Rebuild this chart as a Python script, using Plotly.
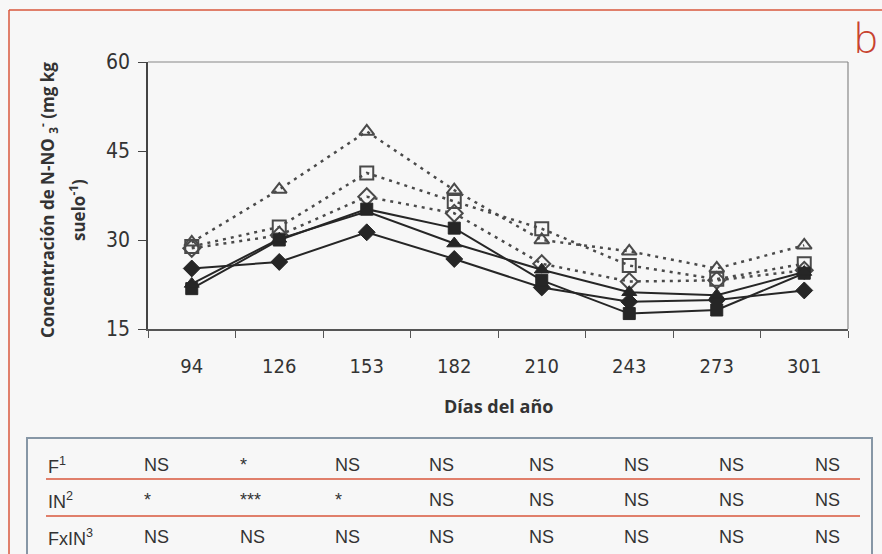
import plotly.graph_objects as go

# Day-of-year sampling dates (category axis)
days = ["94", "126", "153", "182", "210", "243", "273", "301"]

# Soil nitrate concentration (mg N-NO3- per kg soil) for each treatment
solid_diamond = [25.2, 26.3, 31.3, 26.8, 22.0, 19.6, 19.9, 21.5]
solid_square = [21.8, 30.0, 35.2, 32.0, 23.2, 17.6, 18.2, 24.4]
solid_triangle = [22.6, 30.2, 34.8, 29.4, 25.0, 21.2, 20.7, 24.6]
open_diamond = [28.6, 30.8, 37.3, 34.5, 26.0, 23.0, 23.2, 24.9]
open_square = [28.9, 32.2, 41.3, 36.5, 31.9, 25.7, 23.4, 26.0]
open_triangle = [29.6, 38.5, 48.3, 38.4, 30.0, 28.1, 25.2, 29.1]

y_ticks = [15, 30, 45, 60]

# Significance table below the chart
table_labels = ["F<sup>1</sup>", "IN<sup>2</sup>", "FxIN<sup>3</sup>"]
table_F = ["NS", "*", "NS", "NS", "NS", "NS", "NS", "NS"]
table_IN = ["*", "***", "*", "NS", "NS", "NS", "NS", "NS"]
table_FxIN = ["NS", "NS", "NS", "NS", "NS", "NS", "NS", "NS"]

W, H = 882, 554
L, R, T, B = 148, 848, 62, 329


def px(x):
    return (x - L) / (R - L)


def py(y):
    return (B - y) / (B - T)


BG = "#f7f7f7"
DARK = "#262626"
DOT = "#4a4a4a"
RED = "#d8573c"

fig = go.Figure()

solid_series = [
    ("Fertilizado, IN diamante", solid_diamond, "diamond"),
    ("Fertilizado, IN cuadrado", solid_square, "square"),
    ("Fertilizado, IN triángulo", solid_triangle, "triangle-up"),
]
open_series = [
    ("Sin fertilizar, IN diamante", open_diamond, "diamond-open"),
    ("Sin fertilizar, IN cuadrado", open_square, "square-open"),
    ("Sin fertilizar, IN triángulo", open_triangle, "triangle-up-open"),
]

for name, vals, sym in open_series:
    fig.add_trace(go.Scatter(
        x=days, y=vals, name=name, mode="lines+markers",
        line=dict(color=DOT, width=2.5, dash="3px,5px"),
        marker=dict(symbol=sym, size=13, color=DOT,
                    line=dict(color=DOT, width=2)),
    ))

for name, vals, sym in solid_series:
    fig.add_trace(go.Scatter(
        x=days, y=vals, name=name, mode="lines+markers",
        line=dict(color=DARK, width=2),
        marker=dict(symbol=sym, size=13 if sym != "square" else 12,
                    color=DARK, line=dict(color=DARK, width=1)),
    ))

shapes = []
# outer frame (top and left edges)
shapes.append(dict(type="line", xref="paper", yref="paper",
                   x0=px(9), x1=px(890), y0=py(10), y1=py(10),
                   line=dict(color=RED, width=1.5)))
shapes.append(dict(type="line", xref="paper", yref="paper",
                   x0=px(9), x1=px(9), y0=py(10), y1=py(560),
                   line=dict(color=RED, width=1.5)))
# table box
shapes.append(dict(type="rect", xref="paper", yref="paper",
                   x0=px(27), x1=px(872), y0=py(438), y1=py(580),
                   line=dict(color="#8797a6", width=2)))
for ysep in (479, 516):
    shapes.append(dict(type="line", xref="paper", yref="paper",
                       x0=px(46), x1=px(860), y0=py(ysep), y1=py(ysep),
                       line=dict(color=RED, width=1.5)))

title_font = dict(family="Open Sans", size=17, color="#333", weight="bold")
annotations = []
annotations.append(dict(
    text="Concentración de N-NO <sub>3</sub><sup>-</sup> (mg kg",
    xref="paper", yref="paper", x=px(48), y=py(200), textangle=-90,
    showarrow=False, xanchor="center", yanchor="middle", font=title_font,
))
annotations.append(dict(
    text="suelo<sup>-1</sup>)",
    xref="paper", yref="paper", x=px(77), y=py(210), textangle=-90,
    showarrow=False, xanchor="center", yanchor="middle", font=title_font,
))
annotations.append(dict(
    text="Días del año", xref="paper", yref="paper", x=px(498), y=py(406),
    showarrow=False, xanchor="center", yanchor="middle",
    font=dict(family="Open Sans", size=18, color="#333", weight="bold"),
))
annotations.append(dict(
    text="b", xref="paper", yref="paper", x=px(866), y=py(37),
    showarrow=False, xanchor="center", yanchor="middle",
    font=dict(family="Open Sans", size=40, color="#c8432f", weight=300),
))

col_x = [142, 238, 333, 427, 527, 622, 717, 813]
row_y = [465, 500, 537]
tfont = dict(family="Liberation Sans Narrow, Liberation Sans", size=18, color="#333")
for lab, vals, yy in zip(table_labels, [table_F, table_IN, table_FxIN], row_y):
    annotations.append(dict(text=lab, xref="paper", yref="paper", x=px(46), y=py(yy),
                            showarrow=False, xanchor="left", yanchor="middle", font=tfont))
    for v, xx in zip(vals, col_x):
        annotations.append(dict(text=v, xref="paper", yref="paper", x=px(xx), y=py(yy),
                                showarrow=False, xanchor="left", yanchor="middle", font=tfont))

fig.update_layout(
    width=W, height=H,
    margin=dict(l=L, r=W - R, t=T, b=H - B),
    paper_bgcolor=BG, plot_bgcolor=BG,
    showlegend=False,
    shapes=shapes, annotations=annotations,
    xaxis=dict(
        type="category", range=[-0.5, 7.5], tickson="boundaries",
        showline=True, linecolor="#555", linewidth=2, mirror=False,
        ticks="outside", ticklen=7, tickcolor="#555", tickwidth=1,
        showgrid=False, zeroline=False,
        tickfont=dict(family="DejaVu Sans Condensed, Liberation Sans Narrow", size=20, color="#333"),
        ticklabelstandoff=18,
    ),
    yaxis=dict(
        range=[15, 60], tickvals=y_ticks,
        showline=True, linecolor="#444", linewidth=1.5, mirror=False,
        ticks="outside", ticklen=8, tickcolor="#444", tickwidth=1,
        showgrid=False, zeroline=False,
        tickfont=dict(family="DejaVu Sans Condensed, Liberation Sans Narrow", size=21, color="#333"),
        ticklabelstandoff=4,
    ),
)

# light top and right border of the plotting area
fig.add_shape(type="line", xref="paper", yref="paper", x0=0, x1=1, y0=1, y1=1,
              line=dict(color="#888", width=1.2))
fig.add_shape(type="line", xref="paper", yref="paper", x0=1, x1=1, y0=0, y1=1,
              line=dict(color="#888", width=1.2))

fig.write_html("out.html")
